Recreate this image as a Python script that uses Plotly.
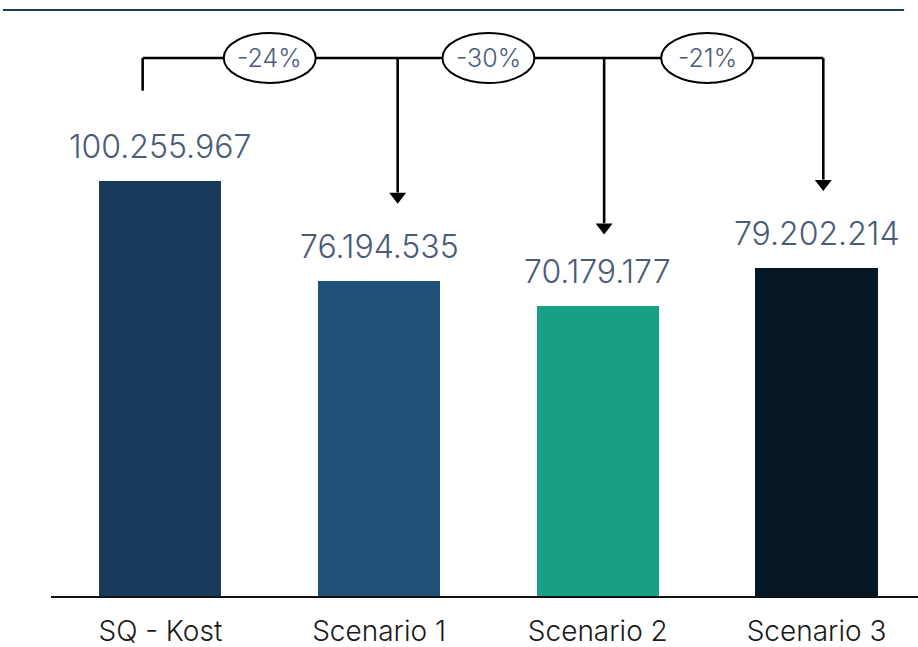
import plotly.graph_objects as go

# Cost per scenario
categories = ["SQ - Kost", "Scenario 1", "Scenario 2", "Scenario 3"]
costs = [100255967, 76194535, 70179177, 79202214]
bar_colors = ["#183a5a", "#1f5078", "#17a085", "#061726"]

# Bracket geometry (data units): height of the connector rail, where each arrow
# drops relative to its bar centre, and how far above the bar it stops
rail_y = 130.0e6
start_drop_y = 122.1e6
start_dx = -0.081
arrow_dx = [0.085, 0.029, 0.031]
arrow_gap = [18.3e6, 16.9e6, 18.4e6]

Y_MAX = 141.6e6
PX_PER_UNIT = 586 / Y_MAX


def fmt(v):
    return f"{v:,}".replace(",", ".")


fig = go.Figure()

fig.add_trace(go.Bar(
    x=list(range(len(categories))),
    y=costs,
    marker=dict(color=bar_colors, line=dict(width=0)),
    width=0.558,
    hoverinfo="skip",
))

# Connector rail with drops toward each scenario
base = costs[0]
fig.add_trace(go.Scatter(
    x=[start_dx, 3 + arrow_dx[2]], y=[rail_y, rail_y], mode="lines",
    line=dict(color="#000000", width=2.6), hoverinfo="skip",
))
fig.add_trace(go.Scatter(
    x=[start_dx, start_dx], y=[start_drop_y, rail_y], mode="lines",
    line=dict(color="#000000", width=2.6), hoverinfo="skip",
))

tri_offset = 8.5 / PX_PER_UNIT
tri_half = 4.0 / PX_PER_UNIT
for i in range(1, len(costs)):
    xi = i + arrow_dx[i - 1]
    tip = costs[i] + arrow_gap[i - 1]
    fig.add_trace(go.Scatter(
        x=[xi, xi], y=[rail_y, tip + tri_offset + tri_half], mode="lines",
        line=dict(color="#000000", width=2.6), hoverinfo="skip",
    ))
    fig.add_trace(go.Scatter(
        x=[xi], y=[tip + tri_offset], mode="markers",
        marker=dict(symbol="triangle-down", size=14.7, color="#000000",
                    line=dict(width=0)),
        hoverinfo="skip",
    ))

shapes = [
    dict(type="line", xref="paper", yref="paper", x0=-0.0554, x1=0.984,
         y0=1.0, y1=1.0, line=dict(color="#1b3a5f", width=2)),
]
annotations = []

# Percentage change bubbles between neighbouring bars
for i in range(1, len(costs)):
    pct = round((costs[i] / base - 1) * 100)
    cx = i - 0.5
    shapes.append(dict(
        type="circle", xref="x", yref="y", xsizemode="pixel", ysizemode="pixel",
        xanchor=cx, yanchor=rail_y, x0=-46, x1=46, y0=-25, y1=25,
        fillcolor="#ffffff", line=dict(color="#000000", width=2), layer="above",
    ))
    annotations.append(dict(
        x=cx, y=rail_y, xref="x", yref="y", text=f"{pct}%", showarrow=False,
        font=dict(family="Inter", size=25, color="#4b5b78", weight=300),
        xanchor="center", yanchor="middle",
    ))

# Value labels above bars
for i, v in enumerate(costs):
    annotations.append(dict(
        x=i, y=v, xref="x", yref="y", text=fmt(v), showarrow=False,
        font=dict(family="Inter", size=32, color="#4b5b78", weight=300),
        xanchor="center", yanchor="bottom", yshift=13,
    ))

fig.update_layout(
    width=918, height=647,
    margin=dict(l=51, r=0, t=10, b=51, autoexpand=False),
    paper_bgcolor="#ffffff", plot_bgcolor="#ffffff",
    showlegend=False,
    bargap=0,
    shapes=shapes,
    annotations=annotations,
    xaxis=dict(
        range=[-0.5, 3.464], tickmode="array",
        tickvals=list(range(len(categories))), ticktext=categories,
        showgrid=False, zeroline=False, showline=True,
        linecolor="#111111", linewidth=2, ticks="",
        ticklabelstandoff=9, automargin=False,
        tickfont=dict(family="Inter", size=28, color="#1a1a1a", weight=300),
        fixedrange=True,
    ),
    yaxis=dict(range=[0, Y_MAX], visible=False, showgrid=False,
               zeroline=False, fixedrange=True, automargin=False),
)

fig.write_html("out.html")
